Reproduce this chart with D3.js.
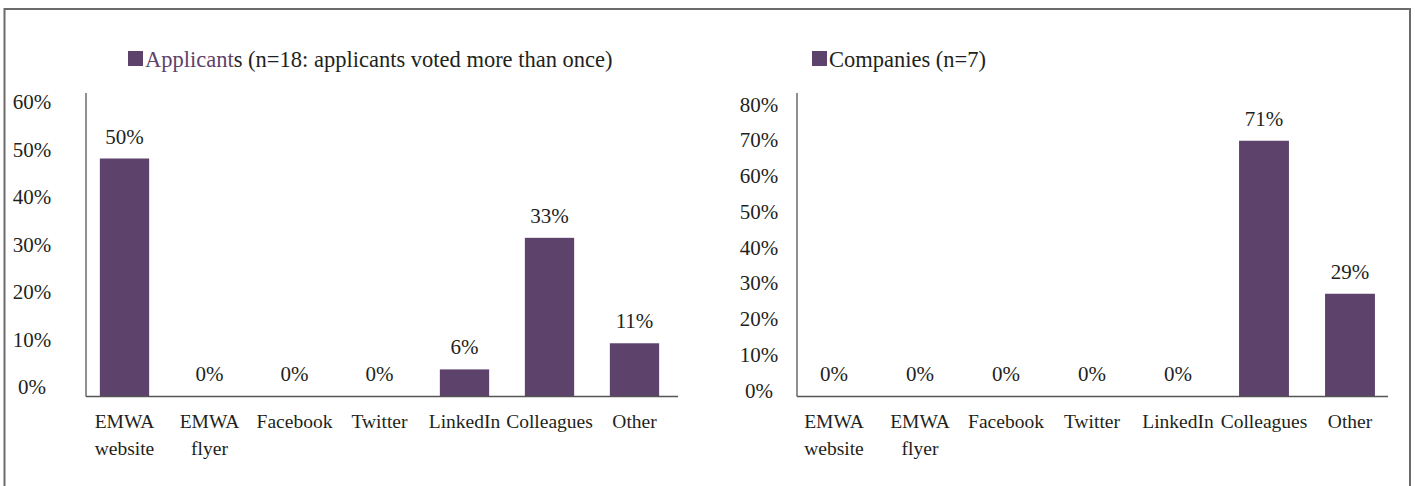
<!DOCTYPE html>
<html>
<head>
<meta charset="utf-8">
<script src="https://cdn.jsdelivr.net/npm/d3@7"></script>
<style>
  html, body { margin: 0; padding: 0; background: #fff; }
  svg { display: block; }
  text { font-family: "Liberation Serif", "DejaVu Serif", serif; fill: #231f20; }
</style>
</head>
<body>
<svg id="chart" width="1415" height="486"></svg>
<script>
// Survey: how did respondents hear about the programme?
const categories = [["EMWA", "website"], ["EMWA", "flyer"], ["Facebook"], ["Twitter"], ["LinkedIn"], ["Colleagues"], ["Other"]];
const applicantValues = [0.50, 0, 0, 0, 0.056, 0.333, 0.111];
const applicantLabels = ["50%", "0%", "0%", "0%", "6%", "33%", "11%"];
const companyValues = [0, 0, 0, 0, 0, 0.714, 0.286];
const companyLabels = ["0%", "0%", "0%", "0%", "0%", "71%", "29%"];
const applicantTicks = [0, 0.1, 0.2, 0.3, 0.4, 0.5, 0.6];
const companyTicks = [0, 0.1, 0.2, 0.3, 0.4, 0.5, 0.6, 0.7, 0.8];

const barColor = "#5d426b";
const svg = d3.select("#chart");

// outer frame
svg.append("path")
  .attr("d", "M4.5,490 V9 H1410 V490")
  .attr("fill", "none")
  .attr("stroke", "#6b6b6b")
  .attr("stroke-width", 2);

function panel(opts) {
  const g = svg.append("g");
  const keys = categories.map((c, i) => i);
  const x = d3.scaleBand().domain(keys).range(opts.xRange)
    .paddingInner(0.42).paddingOuter(0.21);
  const y = d3.scaleLinear().domain([0, opts.max]).range([396, opts.yTop]);

  // bars
  g.selectAll("rect.bar").data(opts.values).join("rect")
    .attr("class", "bar")
    .attr("x", (d, i) => x(i))
    .attr("width", x.bandwidth())
    .attr("y", d => y(d))
    .attr("height", d => y(0) - y(d))
    .attr("fill", barColor);

  // value labels
  g.selectAll("text.val").data(opts.values).join("text")
    .attr("class", "val")
    .attr("x", (d, i) => x(i) + x.bandwidth() / 2)
    .attr("y", d => y(d) - 15)
    .attr("text-anchor", "middle")
    .attr("font-size", 21)
    .text((d, i) => opts.labels[i]);

  // y axis: line plus centred tick labels, no tick marks
  const yAxis = d3.axisLeft(y).tickValues(opts.ticks).tickSize(0).tickPadding(0)
    .tickFormat(d3.format(".0%"));
  const ya = g.append("g").attr("transform", `translate(${opts.labelX},0)`).call(yAxis);
  ya.select(".domain").remove();
  ya.selectAll("text")
    .attr("font-family", "Liberation Serif, DejaVu Serif, serif")
    .attr("font-size", 21)
    .attr("fill", "#231f20")
    .attr("text-anchor", "middle")
    .attr("dy", opts.tickDy);

  g.append("line")
    .attr("x1", opts.axisX[0]).attr("x2", opts.axisX[0])
    .attr("y1", 93).attr("y2", 396.5)
    .attr("stroke", "#231f20").attr("stroke-width", 1);
  g.append("line")
    .attr("x1", opts.axisX[0]).attr("x2", opts.axisX[1])
    .attr("y1", 396.5).attr("y2", 396.5)
    .attr("stroke", "#555").attr("stroke-width", 1.5);

  // category labels
  const cat = g.selectAll("text.cat").data(categories).join("text")
    .attr("class", "cat")
    .attr("text-anchor", "middle")
    .attr("font-size", 19.5)
    .attr("x", (d, i) => x(i) + x.bandwidth() / 2)
    .attr("y", 428);
  cat.selectAll("tspan").data(d => d).join("tspan")
    .attr("x", function () { return d3.select(this.parentNode).attr("x"); })
    .attr("dy", (d, j) => j === 0 ? 0 : 27)
    .text(d => d);

  // legend
  const lg = g.append("g");
  lg.append("rect")
    .attr("x", opts.legendX).attr("y", 51)
    .attr("width", 15).attr("height", 15)
    .attr("fill", barColor);
  const lt = lg.append("text")
    .attr("x", opts.legendX + 17).attr("y", 67)
    .attr("font-size", 22.5);
  opts.legend.forEach(part => {
    lt.append("tspan").attr("fill", part.color || "#231f20").text(part.text);
  });
}

panel({
  values: applicantValues, labels: applicantLabels, ticks: applicantTicks,
  max: 0.6, yTop: 111, xRange: [82, 677], axisX: [86, 678],
  labelX: 32, tickDy: "-0.1em", legendX: 128,
  legend: [{ text: "Applicant", color: barColor }, { text: "s (n=18: applicants voted more than once)" }]
});

panel({
  values: companyValues, labels: companyLabels, ticks: companyTicks,
  max: 0.8, yTop: 110, xRange: [791, 1393], axisX: [797, 1388],
  labelX: 759, tickDy: "0.05em", legendX: 812,
  legend: [{ text: "Companies (n=7)" }]
});
</script>
</body>
</html>
